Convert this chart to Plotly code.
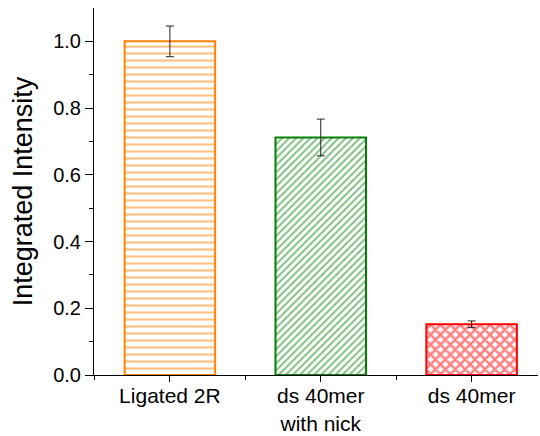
import plotly.graph_objects as go

categories = ["Ligated 2R", "ds 40mer<br>with nick", "ds 40mer"]
intensity = [1.0, 0.712, 0.152]
intensity_err = [0.046, 0.055, 0.010]
bar_colors = ["#FF8000", "#008000", "#FF0000"]
bar_patterns = ["-", "/", "x"]
pattern_sizes = [7, 5, 7]
pattern_solidity = [0.3, 0.4, 0.6]
y_ticks = [0.0, 0.2, 0.4, 0.6, 0.8, 1.0]

positions = list(range(len(categories)))

fig = go.Figure()
for i, name in enumerate(categories):
    fig.add_trace(go.Bar(
        x=[positions[i]],
        y=[intensity[i]],
        width=0.6,
        marker=dict(
            color="white",
            line=dict(color=bar_colors[i], width=2),
            pattern=dict(shape=bar_patterns[i], fgcolor=bar_colors[i],
                         bgcolor="white", size=pattern_sizes[i],
                         solidity=pattern_solidity[i], fillmode="overlay"),
        ),
        error_y=dict(type="data", array=[intensity_err[i]], color="#222222",
                     thickness=1, width=4),
        showlegend=False,
    ))

fig.update_layout(
    width=540, height=436,
    margin=dict(l=94, r=2, t=8, b=61),
    paper_bgcolor="white", plot_bgcolor="white",
    font=dict(family="Liberation Sans, Arial, sans-serif", size=20, color="black"),
    bargap=0.4,
)
fig.update_xaxes(
    range=[-0.503, 2.44],
    tickvals=positions, ticktext=categories,
    ticks="outside", ticklen=6, tickwidth=1, tickcolor="black",
    showline=True, linecolor="black", linewidth=1,
    showgrid=False, zeroline=False, automargin=False,
    ticklabelstandoff=-4,
    minor=dict(tickvals=[-0.5, 0.5, 1.5], ticks="outside", ticklen=4,
               tickcolor="black", tickwidth=1),
    tickfont=dict(size=21),
)
fig.update_yaxes(
    range=[0, 1.1],
    tickvals=y_ticks, tickformat=".1f",
    ticks="outside", ticklen=8, tickwidth=1, tickcolor="black",
    showline=True, linecolor="black", linewidth=1,
    showgrid=False, zeroline=False, automargin=False,
    minor=dict(tickvals=[0.1, 0.3, 0.5, 0.7, 0.9], ticks="outside", ticklen=4,
               tickcolor="black", tickwidth=1),
    title=dict(text="Integrated Intensity", font=dict(size=27), standoff=12),
    tickfont=dict(size=20),
)

fig.write_html("out.html")
